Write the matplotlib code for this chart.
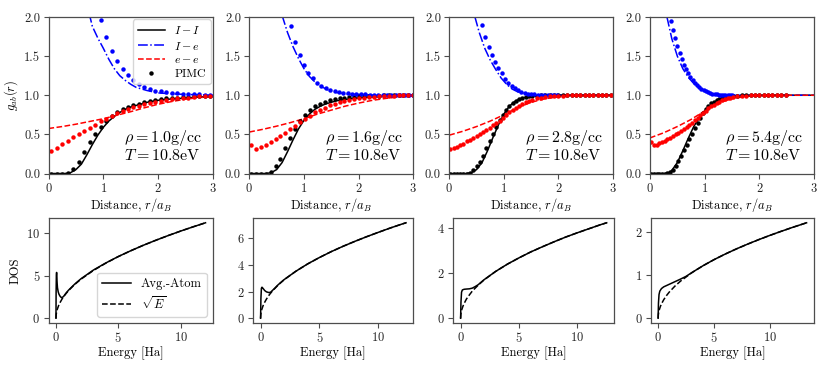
import matplotlib
matplotlib.use("Agg")
import matplotlib.pyplot as plt

plt.rcParams['font.family'] = 'serif'
plt.rcParams['font.serif'] = ['cmr10', 'DejaVu Serif']
plt.rcParams['mathtext.fontset'] = 'cm'
plt.rcParams['axes.formatter.use_mathtext'] = True
plt.rcParams['font.size'] = 9

# ---------------- top row: g_ab(r) ----------------
densities = ["1.0", "1.6", "2.8", "5.4"]
temperature = "10.8"

# model curves (I-I, I-e, e-e)
r_ii_1 = [0, 0.3, 0.4, 0.5, 0.6, 0.7, 0.8, 0.9, 1.0, 1.1, 1.2, 1.3, 1.4, 1.5, 1.6, 1.8, 2.0, 2.2, 2.4, 2.6, 2.8, 3.0]
g_ii_1 = [0, 0, 0.01, 0.05, 0.12, 0.24, 0.37, 0.49, 0.59, 0.67, 0.73, 0.78, 0.82, 0.85, 0.87, 0.91, 0.935, 0.95, 0.96, 0.97, 0.98, 0.985]
r_ie_1 = [0.74, 0.8, 0.9, 1.0, 1.1, 1.2, 1.3, 1.4, 1.5, 1.6, 1.8, 2.0, 2.2, 2.5, 2.8, 3.0]
g_ie_1 = [2.05, 1.88, 1.73, 1.60, 1.46, 1.34, 1.25, 1.19, 1.14, 1.10, 1.06, 1.03, 1.02, 1.01, 1.005, 1.0]
r_ee_1 = [0, 0.25, 0.5, 0.75, 1.0, 1.25, 1.5, 1.75, 2.0, 2.25, 2.5, 2.75, 3.0]
g_ee_1 = [0.575, 0.60, 0.63, 0.665, 0.70, 0.745, 0.79, 0.84, 0.885, 0.92, 0.95, 0.97, 0.985]

r_ii_2 = [0, 0.3, 0.4, 0.5, 0.6, 0.7, 0.8, 0.9, 1.0, 1.1, 1.2, 1.3, 1.4, 1.5, 1.6, 1.8, 2.0, 2.2, 2.5, 3.0]
g_ii_2 = [0, 0, 0.01, 0.05, 0.14, 0.28, 0.43, 0.57, 0.68, 0.76, 0.82, 0.86, 0.89, 0.91, 0.93, 0.95, 0.965, 0.975, 0.99, 1.0]
r_ie_2 = [0.6, 0.7, 0.8, 0.9, 1.0, 1.1, 1.2, 1.3, 1.4, 1.5, 1.6, 1.8, 2.0, 2.3, 2.6, 3.0]
g_ie_2 = [2.02, 1.80, 1.62, 1.47, 1.34, 1.24, 1.17, 1.12, 1.08, 1.05, 1.035, 1.015, 1.01, 1.0, 1.0, 1.0]
r_ee_2 = [0, 0.25, 0.5, 0.75, 1.0, 1.25, 1.5, 1.75, 2.0, 2.25, 2.5, 2.75, 3.0]
g_ee_2 = [0.53, 0.565, 0.605, 0.65, 0.70, 0.76, 0.81, 0.86, 0.90, 0.935, 0.96, 0.98, 0.99]

r_ii_3 = [0, 0.3, 0.4, 0.5, 0.6, 0.7, 0.8, 0.9, 1.0, 1.1, 1.2, 1.3, 1.4, 1.5, 1.7, 2.0, 2.5, 3.0]
g_ii_3 = [0, 0, 0.01, 0.05, 0.14, 0.29, 0.46, 0.62, 0.76, 0.86, 0.92, 0.955, 0.975, 0.985, 0.995, 1.0, 1.0, 1.0]
r_ie_3 = [0.47, 0.55, 0.65, 0.75, 0.85, 0.95, 1.05, 1.15, 1.25, 1.4, 1.6, 1.8, 2.0, 2.5, 3.0]
g_ie_3 = [2.0, 1.80, 1.60, 1.45, 1.33, 1.22, 1.14, 1.08, 1.045, 1.02, 1.005, 1.0, 1.0, 1.0, 1.0]
r_ee_3 = [0, 0.25, 0.5, 0.75, 1.0, 1.25, 1.5, 1.75, 2.0, 2.5, 3.0]
g_ee_3 = [0.49, 0.54, 0.60, 0.67, 0.75, 0.84, 0.91, 0.955, 0.98, 0.995, 1.0]

r_ii_4 = [0, 0.3, 0.35, 0.4, 0.5, 0.6, 0.7, 0.8, 0.9, 1.0, 1.1, 1.2, 1.3, 1.4, 1.5, 1.7, 2.0, 2.5, 3.0]
g_ii_4 = [0, 0, 0.01, 0.04, 0.14, 0.29, 0.45, 0.60, 0.71, 0.80, 0.87, 0.92, 0.955, 0.975, 0.985, 0.995, 1.0, 1.0, 1.0]
r_ie_4 = [0.31, 0.4, 0.5, 0.6, 0.7, 0.8, 0.9, 1.0, 1.1, 1.2, 1.4, 1.7, 2.0, 2.5, 3.0]
g_ie_4 = [2.0, 1.72, 1.50, 1.34, 1.23, 1.15, 1.09, 1.05, 1.025, 1.01, 1.0, 1.0, 1.0, 1.0, 1.0]
r_ee_4 = [0, 0.25, 0.5, 0.75, 1.0, 1.25, 1.5, 1.75, 2.0, 2.5, 3.0]
g_ee_4 = [0.455, 0.52, 0.60, 0.69, 0.80, 0.90, 0.955, 0.985, 0.995, 1.0, 1.0]

# PIMC points
r_pimc_1 = [0.05, 0.15, 0.25, 0.35, 0.45, 0.55, 0.65, 0.75, 0.85, 0.95, 1.05, 1.15, 1.25, 1.35, 1.45,
            1.55, 1.65, 1.75, 1.85, 1.95, 2.05, 2.15, 2.25, 2.35, 2.45, 2.55, 2.65, 2.75, 2.85, 2.95]
pimc_ii_1 = [0, 0, 0, 0.01, 0.06, 0.15, 0.27, 0.40, 0.51, 0.60, 0.67, 0.73, 0.78, 0.82, 0.85,
             0.87, 0.89, 0.91, 0.925, 0.94, 0.95, 0.96, 0.965, 0.97, 0.975, 0.98, 0.985, 0.99, 0.99, 0.995]
pimc_ee_1 = [0.29, 0.33, 0.375, 0.42, 0.465, 0.505, 0.545, 0.585, 0.625, 0.665, 0.70, 0.735, 0.77, 0.795, 0.82,
             0.845, 0.865, 0.885, 0.90, 0.915, 0.93, 0.94, 0.95, 0.96, 0.965, 0.97, 0.98, 0.985, 0.99, 0.99]
r_pimc_ie_1 = [0.95, 1.05, 1.15, 1.25, 1.35, 1.45, 1.55, 1.65, 1.75, 1.85, 1.95, 2.05, 2.15, 2.25, 2.35,
               2.45, 2.55, 2.65, 2.75, 2.85, 2.95]
pimc_ie_1 = [1.96, 1.74, 1.57, 1.44, 1.34, 1.26, 1.19, 1.15, 1.11, 1.08, 1.06, 1.05, 1.04, 1.03, 1.025,
             1.02, 1.015, 1.01, 1.01, 1.005, 1.0]

r_pimc_2 = [0.03, 0.12, 0.21, 0.30, 0.39, 0.48, 0.57, 0.66, 0.75, 0.84, 0.93, 1.02, 1.11, 1.20, 1.29, 1.38, 1.47,
            1.56, 1.65, 1.74, 1.83, 1.92, 2.01, 2.10, 2.19, 2.28, 2.37, 2.46, 2.55, 2.64, 2.73, 2.82, 2.91, 3.00]
pimc_ii_2 = [0, 0, 0, 0.0, 0.02, 0.10, 0.19, 0.32, 0.45, 0.57, 0.67, 0.75, 0.81, 0.86, 0.89, 0.915, 0.935,
             0.95, 0.96, 0.97, 0.975, 0.98, 0.985, 0.99, 0.99, 0.995, 0.995, 1.0, 1.0, 1.0, 1.0, 1.0, 1.0, 1.0]
pimc_ee_2 = [0.37, 0.31, 0.34, 0.37, 0.40, 0.44, 0.48, 0.52, 0.57, 0.61, 0.66, 0.70, 0.74, 0.78, 0.81, 0.84, 0.87,
             0.89, 0.91, 0.93, 0.94, 0.95, 0.96, 0.97, 0.975, 0.98, 0.985, 0.99, 0.99, 0.995, 1.0, 1.0, 1.0, 1.0]
r_pimc_ie_2 = [0.76, 0.84, 0.92, 1.00, 1.08, 1.16, 1.24, 1.32, 1.40, 1.48, 1.56, 1.64, 1.72, 1.80, 1.88,
               1.96, 2.04, 2.12, 2.20, 2.28, 2.36, 2.44, 2.52, 2.60, 2.68, 2.76, 2.84, 2.92, 3.00]
pimc_ie_2 = [1.88, 1.68, 1.52, 1.39, 1.29, 1.22, 1.16, 1.12, 1.09, 1.065, 1.05, 1.04, 1.03, 1.025, 1.02,
             1.015, 1.01, 1.01, 1.005, 1.005, 1.0, 1.0, 1.0, 1.0, 1.0, 1.0, 1.0, 1.0, 1.0]

r_pimc_3 = [0.02, 0.08, 0.14, 0.20, 0.26, 0.32, 0.38, 0.44, 0.50, 0.56, 0.62, 0.68, 0.74, 0.80, 0.86, 0.92,
            0.98, 1.04, 1.10, 1.16, 1.22, 1.28, 1.34, 1.40, 1.46, 1.52, 1.60, 1.68, 1.76, 1.84, 1.92, 2.00,
            2.08, 2.16, 2.24, 2.32, 2.40, 2.48, 2.56, 2.64, 2.72, 2.80, 2.88, 2.96]
pimc_ii_3 = [0, 0, 0, 0, 0, 0, 0.01, 0.04, 0.09, 0.15, 0.23, 0.32, 0.42, 0.51, 0.60, 0.68,
             0.75, 0.81, 0.86, 0.90, 0.93, 0.95, 0.965, 0.975, 0.985, 0.99, 0.995, 1.0, 1.0, 1.0, 1.0, 1.0,
             1.0, 1.0, 1.0, 1.0, 1.0, 1.0, 1.0, 1.0, 1.0, 1.0, 1.0, 1.0]
pimc_ee_3 = [0.31, 0.32, 0.34, 0.36, 0.38, 0.41, 0.43, 0.45, 0.48, 0.505, 0.53, 0.56, 0.585, 0.615, 0.645, 0.675,
             0.71, 0.745, 0.78, 0.81, 0.84, 0.865, 0.89, 0.91, 0.93, 0.945, 0.96, 0.97, 0.98, 0.985, 0.99, 0.99,
             0.995, 1.0, 1.0, 1.0, 1.0, 1.0, 1.0, 1.0, 1.0, 1.0, 1.0, 1.0]
r_pimc_ie_3 = [0.60, 0.66, 0.72, 0.78, 0.84, 0.90, 0.96, 1.02, 1.08, 1.14, 1.20, 1.26, 1.32, 1.38, 1.44,
               1.50, 1.56, 1.62, 1.68, 1.74, 1.80, 1.86, 1.92, 1.98]
pimc_ie_3 = [1.90, 1.74, 1.62, 1.52, 1.43, 1.35, 1.28, 1.21, 1.16, 1.12, 1.09, 1.065, 1.045, 1.03, 1.02,
             1.015, 1.01, 1.005, 1.0, 1.0, 1.0, 1.0, 1.0, 1.0]

r_pimc_4 = [0.02, 0.07, 0.12, 0.17, 0.22, 0.27, 0.32, 0.37, 0.42, 0.47, 0.52, 0.57, 0.62, 0.67, 0.72, 0.77,
            0.82, 0.87, 0.92, 0.97, 1.02, 1.07, 1.12, 1.17, 1.22, 1.27, 1.32, 1.37, 1.42, 1.47, 1.52,
            1.60, 1.68, 1.76, 1.84, 1.92, 2.00, 2.08, 2.16, 2.24, 2.32, 2.40, 2.48]
pimc_ii_4 = [0, 0, 0, 0, 0, 0, 0.005, 0.02, 0.05, 0.10, 0.16, 0.23, 0.30, 0.37, 0.44, 0.51,
             0.58, 0.65, 0.71, 0.77, 0.82, 0.86, 0.895, 0.92, 0.94, 0.955, 0.965, 0.975, 0.98, 0.985, 0.99,
             0.995, 1.0, 1.0, 1.0, 1.0, 1.0, 1.0, 1.0, 1.0, 1.0, 1.0, 1.0]
pimc_ee_4 = [0.40, 0.36, 0.37, 0.385, 0.40, 0.42, 0.44, 0.46, 0.48, 0.50, 0.52, 0.545, 0.57, 0.595, 0.62, 0.65,
             0.68, 0.71, 0.745, 0.775, 0.805, 0.835, 0.86, 0.88, 0.90, 0.92, 0.935, 0.95, 0.96, 0.97, 0.975,
             0.985, 0.99, 0.995, 1.0, 1.0, 1.0, 1.0, 1.0, 1.0, 1.0, 1.0, 1.0]
r_pimc_ie_4 = [0.38, 0.42, 0.46, 0.50, 0.54, 0.58, 0.62, 0.66, 0.70, 0.74, 0.78, 0.82, 0.86, 0.90, 0.94,
               0.98, 1.02, 1.06, 1.10, 1.14, 1.18, 1.22, 1.26, 1.30, 1.34, 1.38, 1.42, 1.46, 1.50]
pimc_ie_4 = [1.95, 1.83, 1.73, 1.63, 1.54, 1.46, 1.39, 1.33, 1.28, 1.23, 1.19, 1.155, 1.125, 1.10, 1.08,
             1.065, 1.05, 1.04, 1.03, 1.02, 1.015, 1.01, 1.005, 1.0, 1.0, 1.0, 1.0, 1.0, 1.0]

# ---------------- bottom row: DOS ----------------
E_sqrt_1 = [0, 0.02, 0.05, 0.1, 0.2, 0.3, 0.5, 0.75, 1, 1.5, 2, 3, 4, 5, 6, 7, 8, 9, 10, 11, 12]
dos_sqrt_1 = [0, 0.46, 0.73, 1.03, 1.45, 1.78, 2.30, 2.81, 3.25, 3.98, 4.60, 5.63, 6.50, 7.27, 7.96, 8.60, 9.19, 9.75, 10.28, 10.78, 11.26]
E_aa_1 = [0, 0.01, 0.03, 0.05, 0.08, 0.12, 0.18, 0.25, 0.35, 0.45, 0.6, 0.8, 1.0, 1.5, 2, 3, 4, 5, 6, 7, 8, 9, 10, 11, 12]
dos_aa_1 = [0, 3.0, 5.0, 5.4, 4.4, 3.6, 3.1, 2.8, 2.55, 2.42, 2.55, 2.95, 3.3, 4.02, 4.65, 5.68, 6.52, 7.28, 7.96, 8.60, 9.19, 9.75, 10.28, 10.78, 11.26]

E_sqrt_2 = [0, 0.02, 0.05, 0.1, 0.2, 0.3, 0.5, 0.75, 1, 1.5, 2, 3, 4, 5, 6, 7, 8, 9, 10, 11, 12, 12.36]
dos_sqrt_2 = [0, 0.29, 0.46, 0.65, 0.91, 1.12, 1.44, 1.77, 2.04, 2.50, 2.89, 3.53, 4.08, 4.56, 5.00, 5.40, 5.77, 6.12, 6.45, 6.77, 7.07, 7.17]
E_aa_2 = [0, 0.03, 0.07, 0.12, 0.2, 0.35, 0.5, 0.7, 0.85, 1.0, 1.2, 1.5, 2, 3, 4, 5, 6, 7, 8, 9, 10, 11, 12, 12.36]
dos_aa_2 = [0, 1.5, 2.25, 2.33, 2.25, 2.08, 1.98, 1.93, 1.95, 2.08, 2.25, 2.52, 2.90, 3.53, 4.08, 4.56, 5.00, 5.40, 5.77, 6.12, 6.45, 6.77, 7.07, 7.17]

E_sqrt_3 = [0, 0.02, 0.05, 0.1, 0.2, 0.3, 0.5, 0.75, 1, 1.5, 2, 3, 4, 5, 6, 7, 8, 9, 10, 11, 12, 12.5]
dos_sqrt_3 = [0, 0.17, 0.27, 0.38, 0.53, 0.65, 0.85, 1.03, 1.20, 1.46, 1.69, 2.07, 2.39, 2.67, 2.93, 3.16, 3.38, 3.59, 3.78, 3.96, 4.14, 4.22]
E_aa_3 = [0, 0.03, 0.08, 0.15, 0.3, 0.5, 0.75, 1.0, 1.25, 1.5, 2, 3, 4, 5, 6, 7, 8, 9, 10, 11, 12, 12.5]
dos_aa_3 = [0, 0.7, 1.15, 1.25, 1.28, 1.29, 1.30, 1.33, 1.40, 1.48, 1.70, 2.07, 2.39, 2.67, 2.93, 3.16, 3.38, 3.59, 3.78, 3.96, 4.14, 4.22]

E_sqrt_4 = [0, 0.02, 0.05, 0.1, 0.2, 0.3, 0.5, 0.75, 1, 1.5, 2, 3, 4, 5, 6, 7, 8, 9, 10, 11, 12, 13.25]
dos_sqrt_4 = [0, 0.086, 0.136, 0.193, 0.273, 0.334, 0.431, 0.528, 0.61, 0.747, 0.863, 1.057, 1.22, 1.364, 1.494, 1.614, 1.725, 1.83, 1.929, 2.023, 2.113, 2.22]
E_aa_4 = [0, 0.03, 0.08, 0.15, 0.3, 0.5, 0.75, 1.0, 1.5, 2.0, 2.5, 3, 4, 5, 6, 7, 8, 9, 10, 11, 12, 13.25]
dos_aa_4 = [0, 0.35, 0.55, 0.63, 0.69, 0.73, 0.76, 0.79, 0.85, 0.91, 0.975, 1.06, 1.22, 1.364, 1.494, 1.614, 1.725, 1.83, 1.929, 2.023, 2.113, 2.22]

dos_yticks = [[0, 5, 10], [0, 2, 4, 6], [0, 2, 4], [0, 1, 2]]

top = [
    (r_ii_1, g_ii_1, r_ie_1, g_ie_1, r_ee_1, g_ee_1, r_pimc_1, pimc_ii_1, pimc_ee_1, r_pimc_ie_1, pimc_ie_1),
    (r_ii_2, g_ii_2, r_ie_2, g_ie_2, r_ee_2, g_ee_2, r_pimc_2, pimc_ii_2, pimc_ee_2, r_pimc_ie_2, pimc_ie_2),
    (r_ii_3, g_ii_3, r_ie_3, g_ie_3, r_ee_3, g_ee_3, r_pimc_3, pimc_ii_3, pimc_ee_3, r_pimc_ie_3, pimc_ie_3),
    (r_ii_4, g_ii_4, r_ie_4, g_ie_4, r_ee_4, g_ee_4, r_pimc_4, pimc_ii_4, pimc_ee_4, r_pimc_ie_4, pimc_ie_4),
]
bottom = [
    (E_aa_1, dos_aa_1, E_sqrt_1, dos_sqrt_1),
    (E_aa_2, dos_aa_2, E_sqrt_2, dos_sqrt_2),
    (E_aa_3, dos_aa_3, E_sqrt_3, dos_sqrt_3),
    (E_aa_4, dos_aa_4, E_sqrt_4, dos_sqrt_4),
]

W, H = 830, 368
fig = plt.figure(figsize=(W / 100, H / 100), dpi=100)

top_x = [(48.5, 213), (249.3, 413.3), (449.3, 613), (650, 814)]
bot_x = [(48.5, 213), (253.3, 413.3), (453.3, 614), (650.7, 814)]
top_y = (17, 173.5)
bot_y = (218, 323)

spine_col = '0.3'

def make_ax(xr, yr):
    ax = fig.add_axes([xr[0] / W, 1 - yr[1] / H, (xr[1] - xr[0]) / W, (yr[1] - yr[0]) / H])
    for s in ax.spines.values():
        s.set_color(spine_col)
        s.set_linewidth(0.9)
    ax.tick_params(colors=spine_col, labelcolor='0.15', length=3.5, width=0.8, labelsize=9, pad=2.5)
    return ax

for i in range(4):
    (r_ii, g_ii, r_ie, g_ie, r_ee, g_ee, r_p, p_ii, p_ee, r_pie, p_ie) = top[i]
    ax = make_ax(top_x[i], top_y)
    ax.plot(r_ii, g_ii, color='k', lw=1.1, ls='-', label=r'$I-I$')
    ax.plot(r_ie, g_ie, color='b', lw=1.1, ls='-.', label=r'$I-e$')
    ax.plot(r_ee, g_ee, color='r', lw=1.1, ls='--', label=r'$e-e$')
    ax.plot(r_p, p_ii, 'o', color='k', ms=3.2, mew=0, label='PIMC')
    ax.plot(r_pie, p_ie, 'o', color='b', ms=3.2, mew=0)
    ax.plot(r_p, p_ee, 'o', color='r', ms=3.2, mew=0)
    ax.set_xlim(0, 3)
    ax.set_ylim(0, 2)
    ax.set_xticks([0, 1, 2, 3])
    ax.set_yticks([0, 0.5, 1.0, 1.5, 2.0])
    ax.set_yticklabels(['0.0', '0.5', '1.0', '1.5', '2.0'])
    ax.set_xlabel(r'Distance, $r/a_B$', fontsize=9, labelpad=1)
    ax.text(0.46, 0.07, r'$\rho = ' + densities[i] + r'\mathrm{g/cc}$' + '\n' + r'$T = ' + temperature + r'\mathrm{eV}$',
            transform=ax.transAxes, fontsize=11.5, ha='left', va='bottom', linespacing=1.0)
    if i == 0:
        ax.set_ylabel(r'$g_{ab}(r)$', fontsize=9, labelpad=3)
        ax.legend(loc='upper right', fontsize=8.5, handlelength=2.3, borderpad=0.4,
                  labelspacing=0.3, handletextpad=0.8, borderaxespad=0.2)

for i in range(4):
    E_aa, d_aa, E_sq, d_sq = bottom[i]
    ax = make_ax(bot_x[i], bot_y)
    ax.plot(E_aa, d_aa, color='k', lw=1.1, ls='-', label='Avg.-Atom')
    ax.plot(E_sq, d_sq, color='k', lw=1.1, ls='--', label=r'$\sqrt{E}$')
    ax.set_xticks([0, 5, 10])
    ax.set_yticks(dos_yticks[i])
    ax.set_xlabel('Energy [Ha]', fontsize=9, labelpad=1)
    if i == 0:
        ax.set_ylabel('DOS', fontsize=9, labelpad=3)
        ax.legend(loc='lower right', fontsize=9, handlelength=2.3, borderpad=0.4,
                  labelspacing=0.4, handletextpad=0.8)

fig.savefig('out.png', dpi=100)
